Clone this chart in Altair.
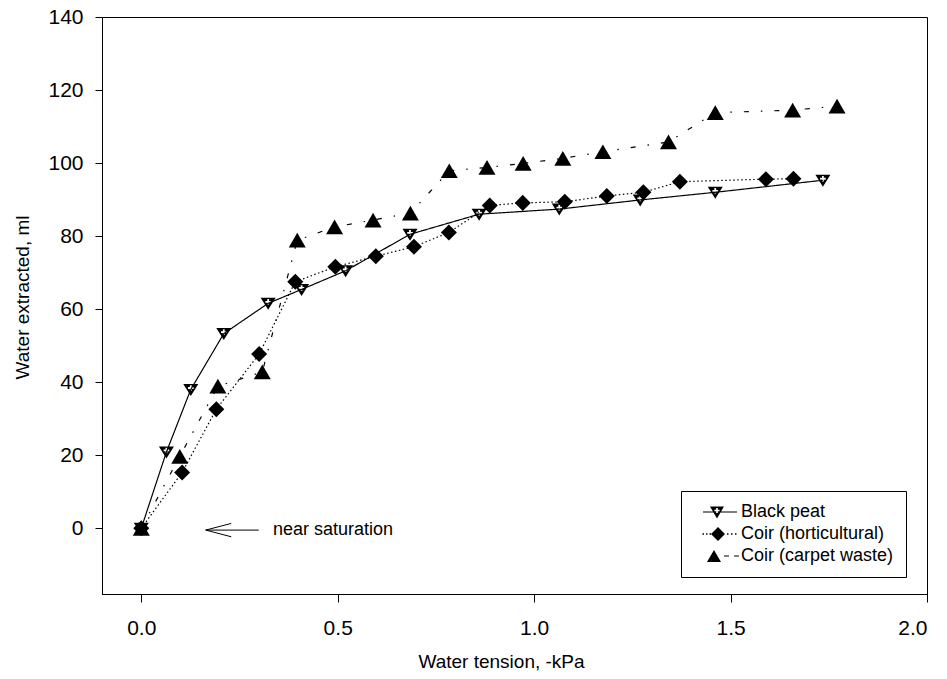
import altair as alt
import pandas as pd

# ---------------- data ----------------
series = ["Black peat", "Coir (horticultural)", "Coir (carpet waste)"]

bp_x = [0.0, 0.064, 0.126, 0.21, 0.323, 0.408, 0.52, 0.684, 0.86, 1.064, 1.27, 1.461, 1.735]
bp_y = [0.0, 20.9, 38.0, 53.3, 61.6, 65.4, 70.5, 80.5, 86.0, 87.4, 89.9, 92.0, 95.3]

ch_x = [0.0, 0.104, 0.191, 0.30, 0.392, 0.494, 0.597, 0.694, 0.783, 0.887, 0.971, 1.078, 1.185, 1.278, 1.371, 1.59, 1.66]
ch_y = [0.0, 15.3, 32.6, 47.7, 67.5, 71.6, 74.5, 77.1, 81.0, 88.4, 89.1, 89.4, 91.0, 92.0, 94.9, 95.6, 95.7]

cw_x = [0.0, 0.098, 0.195, 0.308, 0.397, 0.492, 0.59, 0.685, 0.784, 0.88, 0.972, 1.073, 1.175, 1.342, 1.461, 1.658, 1.771]
cw_y = [0.0, 19.7, 38.9, 42.8, 78.9, 82.5, 84.4, 86.3, 97.9, 98.8, 99.9, 101.3, 103.1, 105.8, 113.8, 114.5, 115.6]

x_ticks = [0.0, 0.5, 1.0, 1.5, 2.0]
y_ticks = [0, 20, 40, 60, 80, 100, 120, 140]

note_text = ["near saturation"]
note_x = [0.335]
note_y = [-0.5]
arrow_tip_x = 0.164
arrow_tail_x = 0.299
arrow_back_x = 0.229
arrow_y = -0.5
arrow_half = 1.83

# ---------------- tables ----------------
rows = []
for name, xs, ys in zip(series, [bp_x, ch_x, cw_x], [bp_y, ch_y, cw_y]):
    for i, (xv, yv) in enumerate(zip(xs, ys)):
        rows.append({"series": name, "idx": i, "x": xv, "y": yv})
df = pd.DataFrame(rows)

arrow_df = pd.DataFrame({
    "x": [arrow_tip_x, arrow_tip_x, arrow_tip_x],
    "x2": [arrow_tail_x, arrow_back_x, arrow_back_x],
    "y": [arrow_y, arrow_y, arrow_y],
    "y2": [arrow_y, arrow_y + arrow_half, arrow_y - arrow_half],
})
note_df = pd.DataFrame({"x": note_x, "y": note_y, "t": note_text})

# ---------------- marker shapes ----------------
def poly(pts, unit):
    return "M" + "L".join(f"{px / unit:.3f},{py / unit:.3f}" for px, py in pts) + "Z"

def rect(x0, x1, h, unit):
    return poly([(x0, -h), (x1, -h), (x1, h), (x0, h)], unit)

def plus_hole(cx, cy, a, w, unit):
    pts = [(cx - w, cy - a), (cx + w, cy - a), (cx + w, cy - w), (cx + a, cy - w),
           (cx + a, cy + w), (cx + w, cy + w), (cx + w, cy + a), (cx - w, cy + a),
           (cx - w, cy + w), (cx - a, cy + w), (cx - a, cy - w), (cx - w, cy - w)]
    return poly(list(reversed(pts)), unit)

# black peat marker for the plot (size 225 -> unit 7.5 px)
U = 7.5
bp_marker = poly([(-7.5, -5.5), (7.5, -5.5), (0, 6.5)], U) + plus_hole(0, -1.5, 2.8, 0.9, U)

# legend symbols (symbolSize 196 -> unit 7 px)
L = 7.0
leg_bp = (rect(1, 11.5, 0.6, L) + rect(18.5, 35, 0.6, L)
          + poly([(8, -5.5), (22, -5.5), (15, 6.5)], L) + plus_hole(15, -1.5, 2.6, 0.85, L))
leg_ch = ("".join(rect(x0, x0 + 1.5, 0.75, L) for x0 in [0.5, 4.0, 7.5, 25, 29, 33])
          + poly([(9, 0), (16, -7), (23, 0), (16, 7)], L))
leg_cw = (poly([(12, -6), (19, 6), (5, 6)], L) + rect(22, 27, 0.6, L) + rect(32, 37, 0.6, L))

FONT = "Liberation Sans"

axis_style = dict(labelFont=FONT, titleFont=FONT, labelFontSize=21, titleFontSize=19,
                  labelColor="black", titleColor="black", tickColor="black",
                  domainColor="black", titleFontWeight="normal", domainWidth=1,
                  tickWidth=1, grid=False)

x_enc = alt.X("x:Q", scale=alt.Scale(domain=[-0.1, 2.0], nice=False, zero=False),
              axis=alt.Axis(values=x_ticks, format=".1f", title="Water tension, -kPa",
                            tickSize=8, labelPadding=15, titlePadding=14, titleX=399,
                            **axis_style))
y_enc = alt.Y("y:Q", scale=alt.Scale(domain=[-18, 140], nice=False, zero=False),
              axis=alt.Axis(values=y_ticks, format="d", title="Water extracted, ml",
                            tickSize=7, labelPadding=12, titlePadding=15, titleY=280,
                            **axis_style))

base = alt.Chart(df)

lines = base.mark_line(color="black", strokeWidth=1.2).encode(
    x=x_enc, y=y_enc, order="idx:O",
    strokeDash=alt.StrokeDash("series:N", scale=alt.Scale(domain=series,
                              range=[[1, 0], [1.5, 2.5], [5, 12, 1.5, 12]]), legend=None),
)

points = base.mark_point(filled=True, color="black", opacity=1).encode(
    x="x:Q", y="y:Q",
    shape=alt.Shape("series:N", scale=alt.Scale(domain=series,
                    range=[bp_marker, "diamond", "triangle-up"]), legend=None),
    size=alt.Size("series:N", scale=alt.Scale(domain=series, range=[225, 289, 250]), legend=None),
)

legend_layer = base.transform_filter("false").mark_point(filled=True, color="black", opacity=1).encode(
    shape=alt.Shape("series:N", scale=alt.Scale(domain=series, range=[leg_bp, leg_ch, leg_cw]),
                    legend=alt.Legend(title=None, orient="none", legendX=579, legendY=474,
                                      strokeColor="black", fillColor="white", padding=12,
                                      symbolSize=196, symbolStrokeWidth=0, symbolFillColor="black",
                                      labelOffset=30, labelFontSize=18, labelFont=FONT,
                                      labelColor="black", rowPadding=4)),
)

arrow = alt.Chart(arrow_df).mark_rule(color="black", strokeWidth=1).encode(
    x="x:Q", x2="x2:Q", y="y:Q", y2="y2:Q")

note = alt.Chart(note_df).mark_text(align="left", baseline="middle", fontSize=18,
                                    font=FONT, color="black").encode(x="x:Q", y="y:Q", text="t:N")

chart = (
    alt.layer(lines, points, legend_layer, arrow, note)
    .resolve_scale(shape="independent")
    .properties(width=825, height=577, autosize=alt.AutoSizeParams(type="none"),
                padding={"left": 102, "top": 17, "right": 20, "bottom": 85},
                background="white")
    .configure_view(stroke="black", strokeWidth=1)
)

chart.save("out.html", embed_options={"renderer": "svg", "actions": False})
